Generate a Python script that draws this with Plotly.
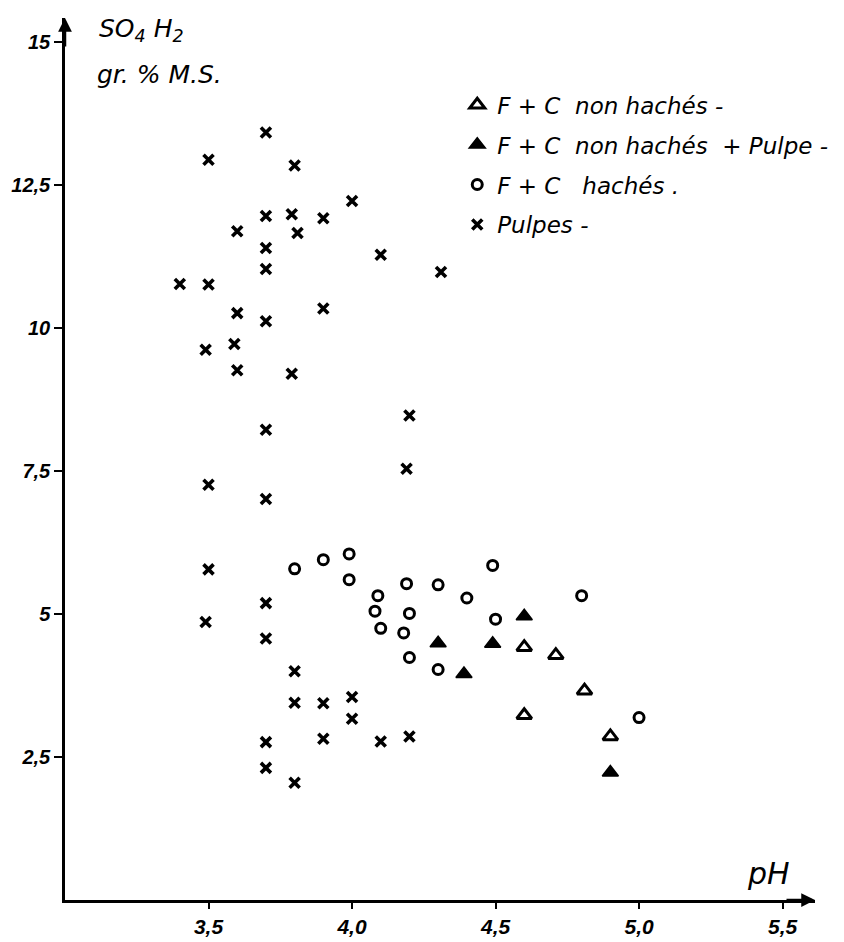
import plotly.graph_objects as go

# ---- data ----
pulpes_ph = [3.70, 3.50, 3.80, 4.00, 3.70, 3.79, 3.90, 3.60, 3.81, 3.70, 4.10, 3.70, 4.31,
             3.40, 3.50, 3.60, 3.90, 3.70, 3.49, 3.59, 3.60, 3.79, 4.20, 3.70, 4.19, 3.50,
             3.70, 3.50, 3.70, 3.49, 3.70, 3.80, 3.80, 3.90, 4.00, 4.00, 3.70, 3.90, 4.10,
             4.20, 3.70, 3.80]
pulpes_so4 = [13.42, 12.94, 12.84, 12.22, 11.96, 11.99, 11.92, 11.69, 11.66, 11.40, 11.28, 11.03, 10.98,
              10.77, 10.76, 10.26, 10.34, 10.12, 9.62, 9.72, 9.26, 9.20, 8.47, 8.22, 7.54, 7.26,
              7.01, 5.78, 5.19, 4.86, 4.57, 4.00, 3.45, 3.44, 3.55, 3.17, 2.76, 2.82, 2.77,
              2.86, 2.31, 2.05]

haches_ph = [3.80, 3.90, 3.99, 3.99, 4.49, 4.19, 4.30, 4.09, 4.40, 4.08, 4.20, 4.50,
             4.10, 4.18, 4.20, 4.30, 4.80, 5.00]
haches_so4 = [5.79, 5.95, 6.05, 5.60, 5.85, 5.53, 5.51, 5.32, 5.28, 5.05, 5.01, 4.91,
              4.75, 4.67, 4.24, 4.03, 5.32, 3.19]

non_haches_pulpe_ph = [4.30, 4.49, 4.60, 4.39, 4.90]
non_haches_pulpe_so4 = [4.49, 4.48, 4.96, 3.95, 2.23]

non_haches_ph = [4.60, 4.71, 4.81, 4.60, 4.90]
non_haches_so4 = [4.42, 4.28, 3.66, 3.23, 2.86]

y_tickvals = [2.5, 5, 7.5, 10, 12.5, 15]
y_ticktext = ["2,5", "5", "7,5", "10", "12,5", "15"]
x_tickvals = [3.5, 4.0, 4.5, 5.0, 5.5]
x_ticktext = ["3,5", "4,0", "4,5", "5,0", "5,5"]

series_names = ["F + C  non hachés -", "F + C  non hachés  + Pulpe -", "F + C   hachés .", "Pulpes -"]

X_MAX = 5.613
Y_MAX = 15.42

fig = go.Figure()

fig.add_trace(go.Scatter(
    x=non_haches_ph, y=non_haches_so4, mode="markers", name=series_names[0],
    legendgroup="a",
    marker=dict(symbol="triangle-up-open", size=13, color="black", line=dict(width=3, color="black")),
))
fig.add_trace(go.Scatter(
    x=non_haches_pulpe_ph, y=non_haches_pulpe_so4, mode="markers", name=series_names[1],
    legendgroup="b",
    marker=dict(symbol="triangle-up", size=14, color="black", line=dict(width=1.5, color="black")),
))
fig.add_trace(go.Scatter(
    x=haches_ph, y=haches_so4, mode="markers", name=series_names[2],
    legendgroup="c",
    marker=dict(symbol="circle-open", size=10, color="black", line=dict(width=3, color="black")),
))
fig.add_trace(go.Scatter(
    x=pulpes_ph, y=pulpes_so4, mode="markers", name=series_names[3],
    legendgroup="d",
    marker=dict(symbol="x-thin", size=10, color="black", line=dict(width=3.6, color="black")),
))

tick_font = dict(family="Liberation Sans", size=20, color="black", weight="bold", style="italic")
hand_font = dict(family="DejaVu Sans", size=23, color="black", style="italic")

# the page body has an 8px margin, so the figure is drawn 8px smaller and shifted
W, H = 836, 934
fig.update_layout(
    width=W, height=H,
    margin=dict(l=57, r=W - 57 - 750, t=10, b=H - 10 - 882, autoexpand=False),
    paper_bgcolor="white", plot_bgcolor="white",
    showlegend=True,
    legend=dict(
        x=0.523, y=0.926, xanchor="left", yanchor="top",
        font=hand_font, bgcolor="rgba(0,0,0,0)", borderwidth=0,
        tracegroupgap=7, traceorder="grouped",
    ),
    xaxis=dict(
        range=[3.0, X_MAX], showgrid=False, zeroline=False, automargin=False,
        showline=True, linecolor="black", linewidth=2.5,
        ticks="outside", ticklen=6, tickwidth=2, tickcolor="black",
        tickvals=x_tickvals, ticktext=x_ticktext, tickfont=dict(tick_font, size=21),
    ),
    yaxis=dict(
        range=[0, Y_MAX], showgrid=False, zeroline=False, automargin=False,
        showline=True, linecolor="black", linewidth=2.5,
        ticks="outside", ticklen=8, tickwidth=2, tickcolor="black",
        tickvals=y_tickvals, ticktext=y_ticktext, tickfont=tick_font,
    ),
)

# axis arrowheads
fig.add_annotation(x=3.0, y=Y_MAX, xref="x", yref="y", text="", showarrow=True,
                   ax=0, ay=30, arrowhead=2, arrowsize=1.1, arrowwidth=2.5, arrowcolor="black")
fig.add_annotation(x=X_MAX, y=0, xref="x", yref="y", text="", showarrow=True,
                   ax=-30, ay=0, arrowhead=2, arrowsize=1.1, arrowwidth=2.5, arrowcolor="black")

# axis titles (handwritten style)
fig.add_annotation(x=(97 - 65) / 750, y=(900 - 30) / 882, xref="paper", yref="paper",
                   text="SO<sub>4</sub> H<sub>2</sub>", showarrow=False,
                   xanchor="left", yanchor="middle", font=dict(hand_font, size=25))
fig.add_annotation(x=(95 - 65) / 750, y=(900 - 75) / 882, xref="paper", yref="paper",
                   text="gr. % M.S.", showarrow=False,
                   xanchor="left", yanchor="middle", font=dict(hand_font, size=25))
fig.add_annotation(x=(768 - 65) / 750, y=(900 - 873) / 882, xref="paper", yref="paper",
                   text="pH", showarrow=False,
                   xanchor="center", yanchor="middle", font=dict(hand_font, size=30))

fig.write_html("out.html")
